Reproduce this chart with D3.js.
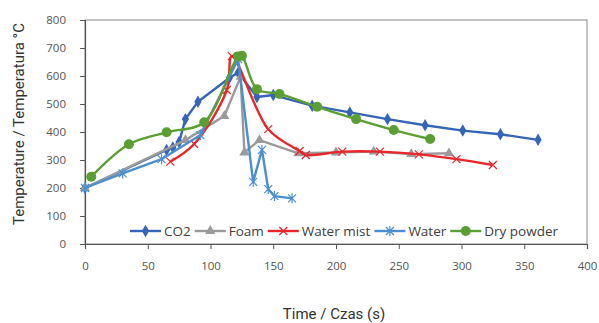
<!DOCTYPE html>
<html>
<head>
<meta charset="utf-8">
<script src="https://cdn.jsdelivr.net/npm/d3@7"></script>
<style>
  body { margin: 0; background: #fff; }
  svg { display: block; }
</style>
</head>
<body>
<script>
// time (s) / temperature (°C)
var co2T = [0, 65, 70, 75, 80, 90, 115, 122, 137, 150, 181, 211, 241, 271, 301, 331, 361];
var co2V = [200, 336, 345, 364, 446, 508, 593, 612, 525, 532, 494, 470, 446, 424, 405, 392, 372];

var foamT = [0, 80, 111, 124, 127, 139, 170, 200, 230, 260, 290];
var foamV = [200, 371, 457, 597, 327, 371, 324, 327, 330, 321, 324];

var mistT = [68, 87, 113, 117, 146, 171, 176, 205, 235, 266, 296, 325];
var mistV = [294, 357, 550, 671, 410, 332, 318, 330, 330, 320, 303, 282];

var waterT = [0, 30, 61, 92, 122, 134, 141, 146, 151, 165];
var waterV = [200, 252, 303, 389, 660, 222, 336, 196, 171, 163];

var powderT = [5, 35, 65, 95, 122, 125, 137, 155, 185, 216, 246, 275];
var powderV = [240, 356, 399, 435, 670, 672, 553, 536, 490, 446, 407, 375];

var seriesNames = ['CO2', 'Foam', 'Water mist', 'Water', 'Dry powder'];
var xTicks = [0, 50, 100, 150, 200, 250, 300, 350, 400];
var yTicks = [0, 100, 200, 300, 400, 500, 600, 700, 800];

var series = [
  {name: seriesNames[0], t: co2T, v: co2V, color: '#3664b6', mark: 'diamond', smooth: false},
  {name: seriesNames[1], t: foamT, v: foamV, color: '#9a9a9a', mark: 'triangle', smooth: false},
  {name: seriesNames[2], t: mistT, v: mistV, color: '#e8262b', mark: 'x', smooth: true},
  {name: seriesNames[3], t: waterT, v: waterV, color: '#4b8fd1', mark: 'star', smooth: false},
  {name: seriesNames[4], t: powderT, v: powderV, color: '#5b9e33', mark: 'circle', smooth: true}
];

var W = 599, H = 323;
var svg = d3.select('body').append('svg')
  .attr('width', W)
  .attr('height', H);

var x = d3.scaleLinear().domain([0, 400]).range([85, 587]);
var y = d3.scaleLinear().domain([0, 800]).range([244, 20]);

var tickFont = "'Open Sans', sans-serif";

// plot frame
svg.append('rect')
  .attr('x', x(0)).attr('y', y(800))
  .attr('width', x(400) - x(0)).attr('height', y(0) - y(800))
  .attr('fill', 'none')
  .attr('stroke', '#8a8a8a')
  .attr('stroke-width', 1);

var xAxis = svg.append('g')
  .attr('transform', 'translate(0,' + y(0) + ')')
  .call(d3.axisBottom(x).tickValues(xTicks).tickSize(5).tickPadding(13));
var yAxis = svg.append('g')
  .attr('transform', 'translate(' + x(0) + ',0)')
  .call(d3.axisLeft(y).tickValues(yTicks).tickSize(5).tickPadding(14));

[xAxis, yAxis].forEach(function (a) {
  a.select('.domain').attr('stroke', '#555').attr('stroke-width', 1.2);
  a.selectAll('.tick line').attr('stroke', '#555');
  a.selectAll('.tick text')
    .attr('fill', '#555')
    .style('font-family', tickFont)
    .style('font-size', '11.5px');
});

// lines
var lineGen = d3.line();
series.forEach(function (s) {
  var pts = s.t.map(function (t, i) { return [x(t), y(s.v[i])]; });
  lineGen.curve(s.smooth ? d3.curveCatmullRom.alpha(0.5) : d3.curveLinear);
  svg.append('path')
    .attr('d', lineGen(pts))
    .attr('fill', 'none')
    .attr('stroke', s.color)
    .attr('stroke-width', 2.4)
    .attr('stroke-linejoin', 'round');
  var g = svg.append('g');
  pts.forEach(function (p) { addMark(g, s, p[0], p[1]); });
});

function addMark(g, s, px, py) {
  if (s.mark === 'diamond') {
    g.append('path').attr('d', d3.symbol(d3.symbolDiamond, 45)())
      .attr('transform', 'translate(' + px + ',' + py + ')')
      .attr('fill', s.color);
  } else if (s.mark === 'triangle') {
    g.append('path').attr('d', d3.symbol(d3.symbolTriangle, 45)())
      .attr('transform', 'translate(' + px + ',' + py + ')')
      .attr('fill', s.color);
  } else if (s.mark === 'circle') {
    g.append('circle').attr('cx', px).attr('cy', py).attr('r', 5)
      .attr('fill', s.color);
  } else {
    var r = 4;
    var d = 'M' + (px - r) + ',' + (py - r) + 'L' + (px + r) + ',' + (py + r) +
            'M' + (px - r) + ',' + (py + r) + 'L' + (px + r) + ',' + (py - r);
    if (s.mark === 'star') d += 'M' + px + ',' + (py - r - 1) + 'L' + px + ',' + (py + r + 1);
    g.append('path').attr('d', d)
      .attr('stroke', s.color)
      .attr('stroke-width', 1.2)
      .attr('fill', 'none');
  }
}

// legend inside the plot
var legend = svg.append('g');
var lx = 130, ly = 231;
series.forEach(function (s) {
  legend.append('line')
    .attr('x1', lx).attr('x2', lx + 31)
    .attr('y1', ly).attr('y2', ly)
    .attr('stroke', s.color).attr('stroke-width', 2.4);
  addMark(legend, s, lx + 15.5, ly);
  var t = legend.append('text')
    .attr('x', lx + 34).attr('y', ly + 5)
    .attr('fill', '#404040')
    .style('font-family', tickFont)
    .style('font-size', '13.5px')
    .text(s.name);
  lx += 34 + t.node().getComputedTextLength() + 4;
});

// axis titles
svg.append('text')
  .attr('x', 334).attr('y', 319)
  .attr('text-anchor', 'middle')
  .attr('fill', '#333')
  .style('font-family', 'Roboto, sans-serif')
  .style('font-size', '15px')
  .text('Time / Czas (s)');

svg.append('text')
  .attr('transform', 'translate(24,124) rotate(-90)')
  .attr('text-anchor', 'middle')
  .attr('fill', '#333')
  .style('font-family', 'Roboto, sans-serif')
  .style('font-size', '15px')
  .text('Temperature / Temperatura °C');
</script>
</body>
</html>
